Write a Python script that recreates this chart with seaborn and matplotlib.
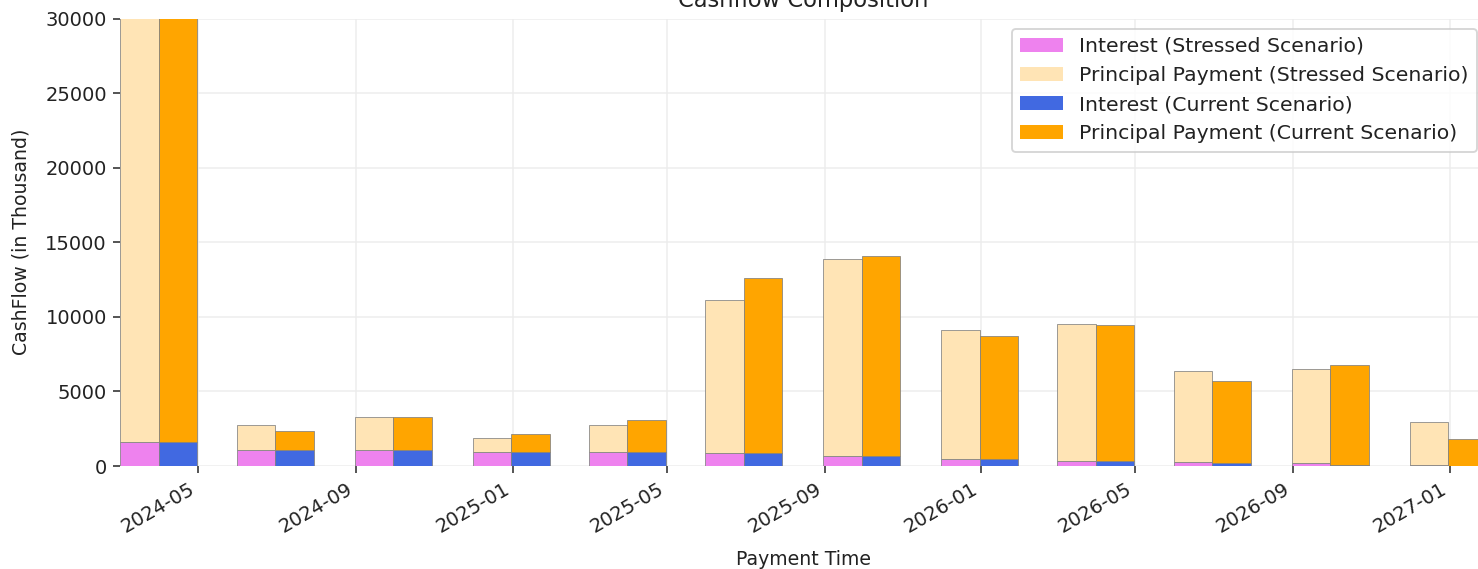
import pandas as pd
import seaborn as sns
import matplotlib
matplotlib.use("Agg")
import matplotlib.pyplot as plt
import matplotlib.dates as mdates

# Quarterly payment dates
pay_dates = ["2024-03-31", "2024-06-30", "2024-09-30", "2024-12-31",
             "2025-03-31", "2025-06-30", "2025-09-30", "2025-12-31",
             "2026-03-31", "2026-06-30", "2026-09-30", "2026-12-31"]

# Cashflows in thousand
stressed_interest = [1590, 1070, 1070, 960, 950, 870, 670, 470, 360, 270, 180, 70]
stressed_principal = [38410, 1700, 2190, 940, 1770, 10240, 13210, 8650, 9160, 6120, 6300, 2880]
current_interest = [1590, 1070, 1070, 960, 950, 870, 670, 470, 360, 180, 90, 30]
current_principal = [38910, 1300, 2190, 1190, 2140, 11720, 13415, 8270, 9075, 5520, 6710, 1800]

sns.set_style("whitegrid", {"xtick.bottom": True, "ytick.left": True,
                            "grid.color": "#ededed", "axes.edgecolor": "white",
                            "text.color": "#222222", "xtick.color": "#222222",
                            "ytick.color": "#222222", "axes.labelcolor": "#222222"})
plt.rcParams["font.family"] = ["DejaVu Sans"]
plt.rcParams["xtick.labelsize"] = 10.3
plt.rcParams["ytick.labelsize"] = 10.3

df = pd.DataFrame({
    "date": pd.to_datetime(pay_dates),
    "stressed_interest": stressed_interest,
    "stressed_principal": stressed_principal,
    "current_interest": current_interest,
    "current_principal": current_principal,
})

dpi = 136
fig = plt.figure(figsize=(1478 / dpi, 569 / dpi), dpi=dpi)
ax = fig.add_axes([120 / 1478, 103 / 569, 1367 / 1478, 447.5 / 569])

half = pd.Timedelta(days=15)
w = 30
edge = dict(edgecolor="grey", linewidth=0.4)

# Stressed scenario on the left of each date, current on the right
ax.bar(df["date"] - half, df["stressed_interest"], width=w, color="violet",
       label="Interest (Stressed Scenario)", **edge)
ax.bar(df["date"] - half, df["stressed_principal"], width=w, bottom=df["stressed_interest"],
       color="moccasin", label="Principal Payment (Stressed Scenario)", **edge)
ax.bar(df["date"] + half, df["current_interest"], width=w, color="royalblue",
       label="Interest (Current Scenario)", **edge)
ax.bar(df["date"] + half, df["current_principal"], width=w, bottom=df["current_interest"],
       color="orange", label="Principal Payment (Current Scenario)", **edge)

ax.set_xlim(df["date"].iloc[0] - 2 * half, df["date"].iloc[-1] + 2 * half)
ax.set_ylim(0, 30000)
ax.xaxis.set_major_locator(mdates.MonthLocator(bymonth=[1, 5, 9]))
ax.xaxis.set_major_formatter(mdates.DateFormatter("%Y-%m"))
plt.setp(ax.get_xticklabels(), rotation=30, ha="right")

sns.despine(ax=ax, left=True, bottom=True)
ax.set_title("Cashflow Composition")
ax.set_xlabel("Payment Time", labelpad=7)
ax.set_ylabel("CashFlow (in Thousand)", labelpad=8)
leg = ax.legend(loc="upper right", fontsize=10.8, handlelength=2.1)
for patch in leg.get_patches():
    patch.set_linewidth(0)

fig.savefig("out.png", dpi=dpi)
